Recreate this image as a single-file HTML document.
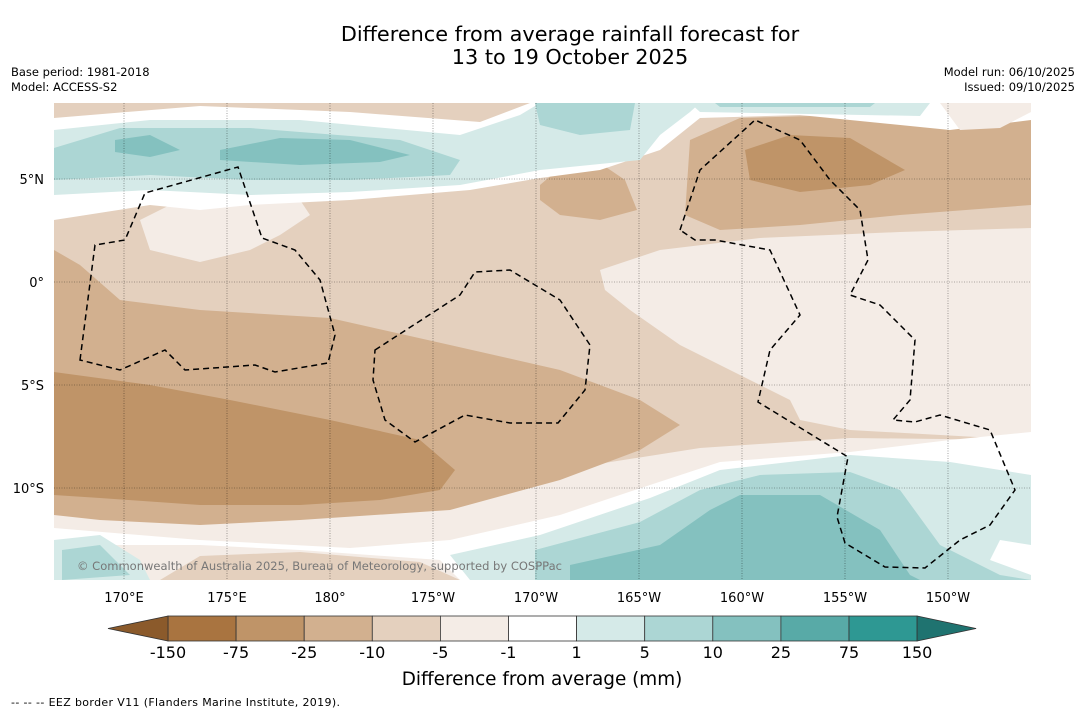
<!DOCTYPE html>
<html><head><meta charset="utf-8"><style>
body{margin:0;background:#fff;width:1085px;height:713px;overflow:hidden;font-family:"Liberation Sans","DejaVu Sans",sans-serif}
svg text{font-family:"DejaVu Sans","Liberation Sans",sans-serif}
</style></head><body>
<svg id="c" width="1085" height="713">
<text x="570" y="41" font-size="20.8" text-anchor="middle">Difference from average rainfall forecast for</text>
<text x="570" y="64" font-size="20.8" text-anchor="middle">13 to 19 October 2025</text>
<text x="11" y="76" font-size="11.5">Base period: 1981-2018</text>
<text x="11" y="91" font-size="11.5">Model: ACCESS-S2</text>
<text x="1075" y="76" font-size="11.5" text-anchor="end">Model run: 06/10/2025</text>
<text x="1075" y="91" font-size="11.5" text-anchor="end">Issued: 09/10/2025</text>
<defs><clipPath id="mc"><rect x="54" y="103" width="977" height="477"/></clipPath></defs>
<g clip-path="url(#mc)">
<rect x="54" y="103" width="977" height="477" fill="#e4d0be"/>
<path fill="#f4ece6" d="M600,270 L660,250 760,238 900,232 1031,228 1031,440 850,430 800,420 790,400 740,375 680,345 630,310 605,290Z"/>
<path fill="#f4ece6" d="M140,220 L180,200 230,190 300,200 310,215 280,235 250,250 200,262 150,250Z"/>
<path fill="#f4ece6" d="M54,505 L300,518 460,505 560,470 700,448 850,438 1031,440 1031,580 54,580Z"/>
<path fill="#d2b08f" d="M54,250 L80,265 120,300 200,310 330,318 450,345 560,370 640,400 680,425 640,450 560,480 450,510 300,520 200,525 100,520 54,515Z"/>
<path fill="#d2b08f" d="M690,140 L740,118 850,115 950,125 1031,115 1031,205 900,215 800,225 720,230 685,215Z"/>
<path fill="#d2b08f" d="M540,185 L560,168 600,163 625,180 637,210 600,220 560,215 540,200Z"/>
<path fill="#bf9468" d="M54,372 L150,385 230,400 330,420 420,440 455,470 440,490 380,500 300,505 200,505 100,498 54,495Z"/>
<path fill="#bf9468" d="M745,150 L790,135 850,138 905,170 870,185 800,192 750,180Z"/>
<path fill="#fff" d="M54,528 L200,540 350,548 450,540 560,515 650,485 720,462 850,452 950,440 1031,432 1031,580 460,580 440,560 300,550 200,545 54,545Z"/>
<path fill="#e4d0be" d="M160,580 L200,556 300,552 420,562 460,580Z"/>
<path fill="#d5eae8" d="M450,555 L540,535 650,498 720,470 850,455 950,462 1000,470 1031,475 1031,545 1000,540 990,560 1031,575 1031,580 470,580Z"/>
<path fill="#acd6d4" d="M535,550 L640,522 700,490 760,475 850,472 900,490 940,545 1000,575 1031,580 535,580Z"/>
<path fill="#84c1bf" d="M570,565 L660,545 710,510 740,495 820,495 880,530 910,575 920,580 570,580Z"/>
<path fill="#d5eae8" d="M54,540 L100,535 140,560 150,580 54,580Z"/>
<path fill="#acd6d4" d="M62,550 L100,545 130,575 62,580Z"/>
<path fill="#fff" d="M54,118 L200,106 350,112 480,122 530,103 1031,103 1031,120 950,130 800,115 700,118 660,150 600,170 540,178 470,190 350,200 250,205 200,210 150,205 54,220Z"/>
<path fill="#f4ece6" d="M940,103 L1031,103 1031,112 1000,128 960,130Z"/>
<path fill="#d5eae8" d="M54,130 L150,120 300,120 460,135 520,115 540,103 700,103 690,112 660,135 640,160 540,170 460,185 350,192 250,195 150,190 54,195Z"/>
<path fill="#d5eae8" d="M690,103 L930,103 920,116 700,112Z"/>
<path fill="#acd6d4" d="M54,148 L120,128 250,128 400,140 460,160 450,175 350,180 250,180 150,175 54,180Z"/>
<path fill="#acd6d4" d="M535,103 L635,103 630,130 580,135 540,125Z"/>
<path fill="#acd6d4" d="M715,103 L875,103 870,107 720,107Z"/>
<path fill="#84c1bf" d="M115,140 L150,135 180,150 150,157 115,152Z"/>
<path fill="#84c1bf" d="M220,150 L280,138 350,140 410,155 380,162 300,165 220,160Z"/>
<g id="grid" stroke="#000" stroke-width="0.6" stroke-dasharray="1,1.5" opacity="0.6"></g>
<g fill="none" stroke="#000" stroke-width="1.5" stroke-dasharray="6,4">
<path d="M80,360 L95,245 125,240 145,193 238,167 262,238 295,250 320,280 335,335 328,363 275,372 255,365 185,370 165,350 120,370Z"/>
<path d="M375,350 L460,295 475,272 510,270 560,300 590,345 585,390 558,423 510,423 465,415 415,442 385,420 373,380Z"/>
<path d="M680,230 L700,170 755,120 800,140 830,180 860,210 868,260 850,295 880,305 915,340 910,400 893,420 915,422 940,415 990,430 1015,490 990,525 960,540 925,568 885,567 845,543 837,517 848,457 758,402 770,350 800,315 770,250 715,240 695,240Z"/>
</g>
<text x="77" y="570" font-size="11.5" fill="#777" textLength="485">© Commonwealth of Australia 2025, Bureau of Meteorology, supported by COSPPac</text>
</g>
<g id="axes"></g>
<g id="cbar"></g>
<text x="542" y="685" font-size="18.4" text-anchor="middle">Difference from average (mm)</text>
<text x="11" y="706" font-size="11" textLength="329">--  --  -- EEZ border V11 (Flanders Marine Institute, 2019).</text>
</svg>
<script>
const lonTicks=[170,175,180,185,190,195,200,205,210];
const lonLabels=["170°E","175°E","180°","175°W","170°W","165°W","160°W","155°W","150°W"];
const latTicks=[5,0,-5,-10];
const latLabels=["5°N","0°","5°S","10°S"];
const levelLabels=["-150","-75","-25","-10","-5","-1","1","5","10","25","75","150"];
const levelColors=["#a97440","#bf9468","#d2b08f","#e4d0be","#f4ece6","#ffffff","#d5eae8","#acd6d4","#84c1bf","#58aaa7","#2e9893"];
const extendColors=["#8b5a2b","#1f7370"];
const NS="http://www.w3.org/2000/svg";
const xLon=l=>124+(l-170)*20.6;
const yLat=l=>282-l*20.6;
function mk(t,a,p){const e=document.createElementNS(NS,t);for(const k in a)e.setAttribute(k,a[k]);p.appendChild(e);return e;}
const grid=document.getElementById('grid'),axes=document.getElementById('axes'),cb=document.getElementById('cbar');
lonTicks.forEach((l,i)=>{
 const ln=mk('line',{x1:xLon(l),x2:xLon(l),y1:103,y2:580},grid);
 
 
 const t=mk('text',{x:xLon(l),y:602,'font-size':13,'text-anchor':'middle'},axes);t.textContent=lonLabels[i];
 
 
});
latTicks.forEach((l,i)=>{
 const ln=mk('line',{x1:54,x2:1031,y1:yLat(l),y2:yLat(l)},grid);
 
 
 const t=mk('text',{x:44,y:yLat(l)+5,'font-size':13,'text-anchor':'end'},axes);t.textContent=latLabels[i];
 
 
});
const cx0=168,cw=68.1,cy=616,ch=25;
const cbX=i=>cx0+i*cw;
levelColors.forEach((c,i)=>{
 const r=mk('rect',{x:cbX(i),y:cy,width:cw,height:ch,fill:c,stroke:'#333','stroke-width':0.8},cb);
 
 
});
const n=levelColors.length;
const tl=mk('polygon',{points:`${cbX(0)},${cy} ${cbX(0)-60},${cy+ch/2} ${cbX(0)},${cy+ch}`,fill:extendColors[0],stroke:'#333','stroke-width':0.8},cb);


const tr=mk('polygon',{points:`${cbX(n)},${cy} ${cbX(n)+59},${cy+ch/2} ${cbX(n)},${cy+ch}`,fill:extendColors[1],stroke:'#333','stroke-width':0.8},cb);


levelLabels.forEach((s,i)=>{
 const t=mk('text',{x:cbX(i),y:658,'font-size':16,'text-anchor':'middle'},cb);t.textContent=s;
 
 
});
</script>
</body></html>
